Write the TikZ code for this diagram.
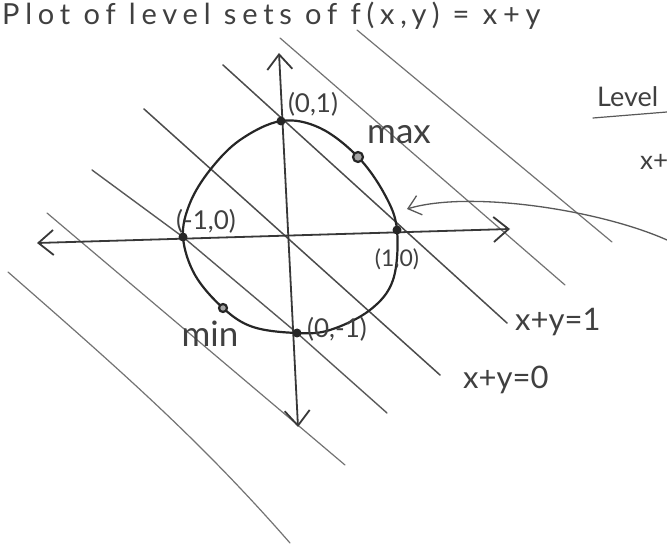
\documentclass[tikz,border=0pt]{standalone}
\usepackage{fontspec}
\setmainfont{Lato}
\usepackage{tikz}
\usetikzlibrary{arrows.meta,positioning}
\tikzset{
  escrita/.style={text=black!75, inner sep=0pt, font=\fontsize{26}{28}\selectfont},
  grande/.style={escrita, font=\fontsize{31}{34}\selectfont},
  nivel/.style={draw=black!55, line width=1.2pt, line cap=round},
  eixo/.style={draw=black!78, line width=1.8pt, line cap=round,
    {Straight Barb[length=15pt,width=25pt,line width=1.8pt]}-{Straight Barb[length=15pt,width=25pt,line width=1.8pt]}},
  curva/.style={draw=black!85, line width=2.2pt},
  ponto/.style={circle, fill=black!85, minimum size=9pt, inner sep=0pt},
  extremo/.style={circle, draw=black!85, fill=black!35, line width=2.2pt, minimum size=10pt, inner sep=0pt},
  seta/.style={draw=black!65, line width=1.3pt, line cap=round,
    -{Straight Barb[length=12pt,width=20pt,line width=1.3pt]}}
}
\begin{document}
\begin{tikzpicture}[x=1pt,y=-1pt]
\useasboundingbox (0,0) rectangle (667,545);
\fill[white] (0,0) rectangle (667,545);
\node[escrita, font=\fontsize{29}{32}\selectfont\addfontfeatures{LetterSpace=20}, anchor=base west] (t) at (2,25) {Plot of level sets of f(x,y) = x+y};
\node[escrita, font=\fontsize{27}{30}\selectfont, anchor=base west] (lv) at (597,107) {Level};
\draw[nivel, draw=black!65] (593,118) -- (667,112);
\node[escrita, font=\fontsize{26}{28}\selectfont, anchor=base west] (lx) at (640,170) {x+};
\draw[nivel] (357,30) -- (612,242);
\draw[nivel] (280,38) -- (565,285);
\draw[nivel, draw=black!70, line width=1.5pt] (223,65) -- (507,323);
\draw[nivel, draw=black!70, line width=1.5pt] (144,109) -- (440,375);
\draw[nivel, draw=black!65, line width=1.4pt] (92,170) -- (183,237) -- (297,333) -- (387,413);
\draw[nivel] (47,213) -- (345,465);
\draw[nivel] (8,272) .. controls (120,370) and (200,440) .. (290,543);
\coordinate (xl) at (37,243);
\coordinate (xr) at (510,229);
\coordinate (yt) at (279,53);
\coordinate (yb) at (298,427);
\draw[eixo] (xl) -- (xr);
\draw[eixo] (yt) -- (yb);
\draw[curva] plot[smooth cycle, tension=0.6] coordinates {(281,121) (320,128) (358,157) (385,195) (397,230) (393,280) (370,310) (330,330) (297,333) (253,327) (223,308) (195,275) (183,237) (190,203) (210,170) (240,140)};
\node[ponto] (a) at (281,121) {};
\node[ponto] (b) at (397,230) {};
\node[ponto] (c) at (297,333) {};
\node[ponto] (d) at (183,237) {};
\node[extremo] (mx) at (358,157) {};
\node[extremo, minimum size=8pt] (mn) at (223,308) {};
\node[escrita] (la) at (313,104) {(0,1)};
\node[grande, font=\fontsize{35}{38}\selectfont] (lmx) at (399,135) {max};
\node[escrita] (ld) at (206,221) {(-1,0)};
\node[escrita, font=\fontsize{23}{25}\selectfont] (lb) at (397,259) {(1,0)};
\node[escrita] (lc) at (337,329) {(0,-1)};
\node[grande, font=\fontsize{35}{38}\selectfont] (lmn) at (210,334) {min};
\node[grande, anchor=west] (e1) at (515,322) {x+y=1};
\node[grande, anchor=west] (e0) at (463,380) {x+y=0};
\coordinate (s) at (667,240);
\coordinate (p) at (407,209);
\draw[seta] (s) .. controls (600,210) and (470,190) .. (p);
\end{tikzpicture}
\end{document}
